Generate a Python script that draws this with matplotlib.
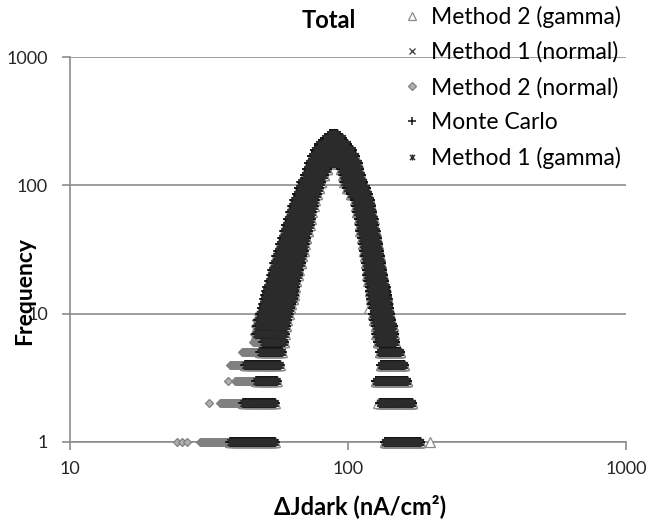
import numpy as np
import matplotlib.pyplot as plt
from matplotlib.path import Path

plt.rcParams['font.family'] = ['Lato', 'DejaVu Sans']

# Main band of the histograms: count per bin, and the x range (nA/cm2)
# of the bins holding that count on the rising and falling flank.
band_counts = [7, 8, 9, 10, 11, 12, 13, 14, 15, 16, 18, 20, 22, 25, 28, 31, 35,
               39, 44, 49, 55, 62, 69, 77, 86, 96, 107, 120, 134, 150, 168, 188,
               210, 235, 250]
band_left_lo = [46.7, 47.1, 47.5, 48.3, 48.9, 49.5, 49.9, 50.3, 50.9, 51.3, 52.0,
                52.9, 53.5, 54.4, 55.1, 56.0, 56.9, 57.9, 58.9, 59.8, 60.8, 61.9,
                62.9, 64.0, 65.3, 66.6, 68.0, 70.0, 71.2, 72.4, 74.2, 76.1, 78.7,
                82.7, 86.2]
band_left_hi = [59.1, 59.8, 60.6, 61.4, 61.9, 62.4, 63.4, 64.0, 64.2, 64.5, 65.3,
                66.1, 66.6, 67.8, 68.3, 69.2, 70.0, 70.9, 71.8, 72.7, 73.6, 74.2,
                75.2, 76.1, 77.4, 78.7, 80.3, 82.0, 84.1, 88.3, 88.3, 88.3, 88.3,
                88.3, 88.3]
band_right_lo = [126.6, 125.6, 124.1, 123.0, 122.5, 121.5, 121.0, 120.5, 120.0,
                 119.5, 118.5, 117.5, 117.0, 116.1, 115.1, 114.2, 113.2, 112.3,
                 110.9, 110.0, 109.1, 107.8, 106.9, 106.0, 102.5, 99.2, 97.1, 96.3,
                 94.4, 88.3, 88.3, 88.3, 88.3, 88.3, 88.3]
band_right_hi = [146.4, 145.2, 143.4, 141.6, 140.5, 139.3, 138.7, 138.2, 137.0,
                 136.5, 134.8, 133.7, 132.6, 131.5, 130.4, 129.3, 128.2, 127.1,
                 125.6, 124.6, 123.5, 122.0, 121.0, 120.0, 118.0, 116.1, 113.7,
                 111.4, 109.5, 108.6, 106.0, 103.4, 99.2, 95.1, 91.3]

# Low counts (tails)
tail_counts = [1, 2, 3, 4, 5, 6]
tail_left_lo = [37.6, 41.9, 46.7, 42.6, 48.3, 49.5]
tail_left_hi = [54.6, 54.6, 55.5, 56.9, 57.9, 58.9]
tail_right_lo = [135.9, 130.4, 126.1, 131.5, 130.4, 128.2]
tail_right_hi = [181.6, 169.9, 163.0, 159.0, 153.8, 147.6]

# Method 2 (normal) reaches further out on the left
m2n_counts = [1, 2, 3, 4, 5, 6, 7, 8, 9, 10]
m2n_left_lo = [29.3, 34.6, 39.2, 37.6, 41.6, 45.5, 45.9, 46.3, 46.8, 47.4]
m2n_left_hi = [50.0, 48.0, 50.0, 52.0, 54.0, 56.0, 56.0, 56.0, 57.0, 58.0]
m2n_single_x = [24.3, 25.3, 26.4, 31.6, 37.0]
m2n_single_f = [1, 1, 1, 2, 3]

# isolated Method 2 (gamma) bins
m2g_single_x = [197.2, 128.2, 119.0]
m2g_single_f = [1, 2, 11]

bin_width = 0.25

series_names = ['Method 2 (gamma)', 'Method 1 (normal)', 'Method 2 (normal)',
                'Monte Carlo', 'Method 1 (gamma)']

# Excel-style star: an x with a vertical bar through it
star = Path([(-1, -1), (1, 1), (-1, 1), (1, -1), (0, -1.2), (0, 1.2)],
            [Path.MOVETO, Path.LINETO, Path.MOVETO, Path.LINETO,
             Path.MOVETO, Path.LINETO])

styles = {
    'Method 2 (gamma)': dict(marker='^', ms=7, mfc='white', mec='#8a8a8a', mew=0.9),
    'Method 1 (normal)': dict(marker='x', ms=5, mfc='#4a4a4a', mec='#4a4a4a', mew=1.0),
    'Method 2 (normal)': dict(marker='D', ms=4.5, mfc='#b0b0b0', mec='#808080', mew=0.9),
    'Monte Carlo': dict(marker='+', ms=6.5, mfc='#151515', mec='#151515', mew=1.1),
    'Method 1 (gamma)': dict(marker=star, ms=5.5, mfc='#2b2b2b', mec='#2b2b2b', mew=1.0),
}


def runs_to_points(counts, lo, hi):
    xs, ys = [], []
    for c, a, b in zip(counts, lo, hi):
        bins = np.arange(a, b + bin_width / 2, bin_width)
        xs.append(bins)
        ys.append(np.full(len(bins), c))
    return np.concatenate(xs), np.concatenate(ys)


def series_points(name):
    parts = [runs_to_points(band_counts, band_left_lo, band_left_hi),
             runs_to_points(band_counts, band_right_lo, band_right_hi),
             runs_to_points(tail_counts, tail_left_lo, tail_left_hi),
             runs_to_points(tail_counts, tail_right_lo, tail_right_hi)]
    if name == 'Method 2 (normal)':
        parts.append(runs_to_points(m2n_counts, m2n_left_lo, m2n_left_hi))
        parts.append((np.array(m2n_single_x), np.array(m2n_single_f)))
    if name == 'Method 2 (gamma)':
        parts.append((np.array(m2g_single_x), np.array(m2g_single_f)))
    x = np.concatenate([p[0] for p in parts])
    y = np.concatenate([p[1] for p in parts])
    return x, y


fig = plt.figure(figsize=(6.48, 5.23), dpi=100)
ax = fig.add_axes([70 / 648, 81 / 523, 556 / 648, 385 / 523])

for name in series_names:
    x, y = series_points(name)
    ax.plot(x, y, linestyle='none', label=name, clip_on=False, zorder=3,
            **styles[name])

ax.set_xscale('log')
ax.set_yscale('log')
ax.set_xlim(10, 1000)
ax.set_ylim(1, 1000)

grid_grey = '#8c8c8c'
ax.set_yticks([1, 10, 100, 1000])
ax.set_yticklabels(['1', '10', '100', '1000'])
ax.set_xticks([10, 100, 1000])
ax.set_xticklabels(['10', '100', '1000'])
ax.minorticks_off()
ax.yaxis.grid(True, color=grid_grey, linewidth=1.2)
ax.set_axisbelow(True)
for side in ['top', 'right']:
    ax.spines[side].set_visible(False)
for side in ['left', 'bottom']:
    ax.spines[side].set_color(grid_grey)
    ax.spines[side].set_linewidth(1.2)
ax.tick_params(axis='both', colors=grid_grey, width=1.2, length=6,
               labelcolor='#262626', labelsize=13)
ax.tick_params(axis='y', pad=10)
ax.tick_params(axis='x', pad=8)

fig.text(329 / 648, 1 - 20 / 523, 'Total', ha='center', va='center',
         fontsize=17, fontweight='bold')
fig.text(25 / 648, 1 - 291 / 523, 'Frequency', ha='center', va='center',
         rotation=90, fontsize=16.5, fontweight='bold')
fig.text(360 / 648, 1 - 506 / 523, 'ΔJdark (nA/cm²)', ha='center',
         va='center', fontsize=17, fontweight='bold')

leg = ax.legend(loc='upper left', bbox_to_anchor=(394 / 648, 1 + 6 / 523),
                bbox_transform=fig.transFigure, frameon=False, fontsize=16.5,
                handlelength=0.6, handletextpad=0.5, borderpad=0,
                labelspacing=0.6, markerscale=0.8)

fig.savefig('out.png', dpi=100)
